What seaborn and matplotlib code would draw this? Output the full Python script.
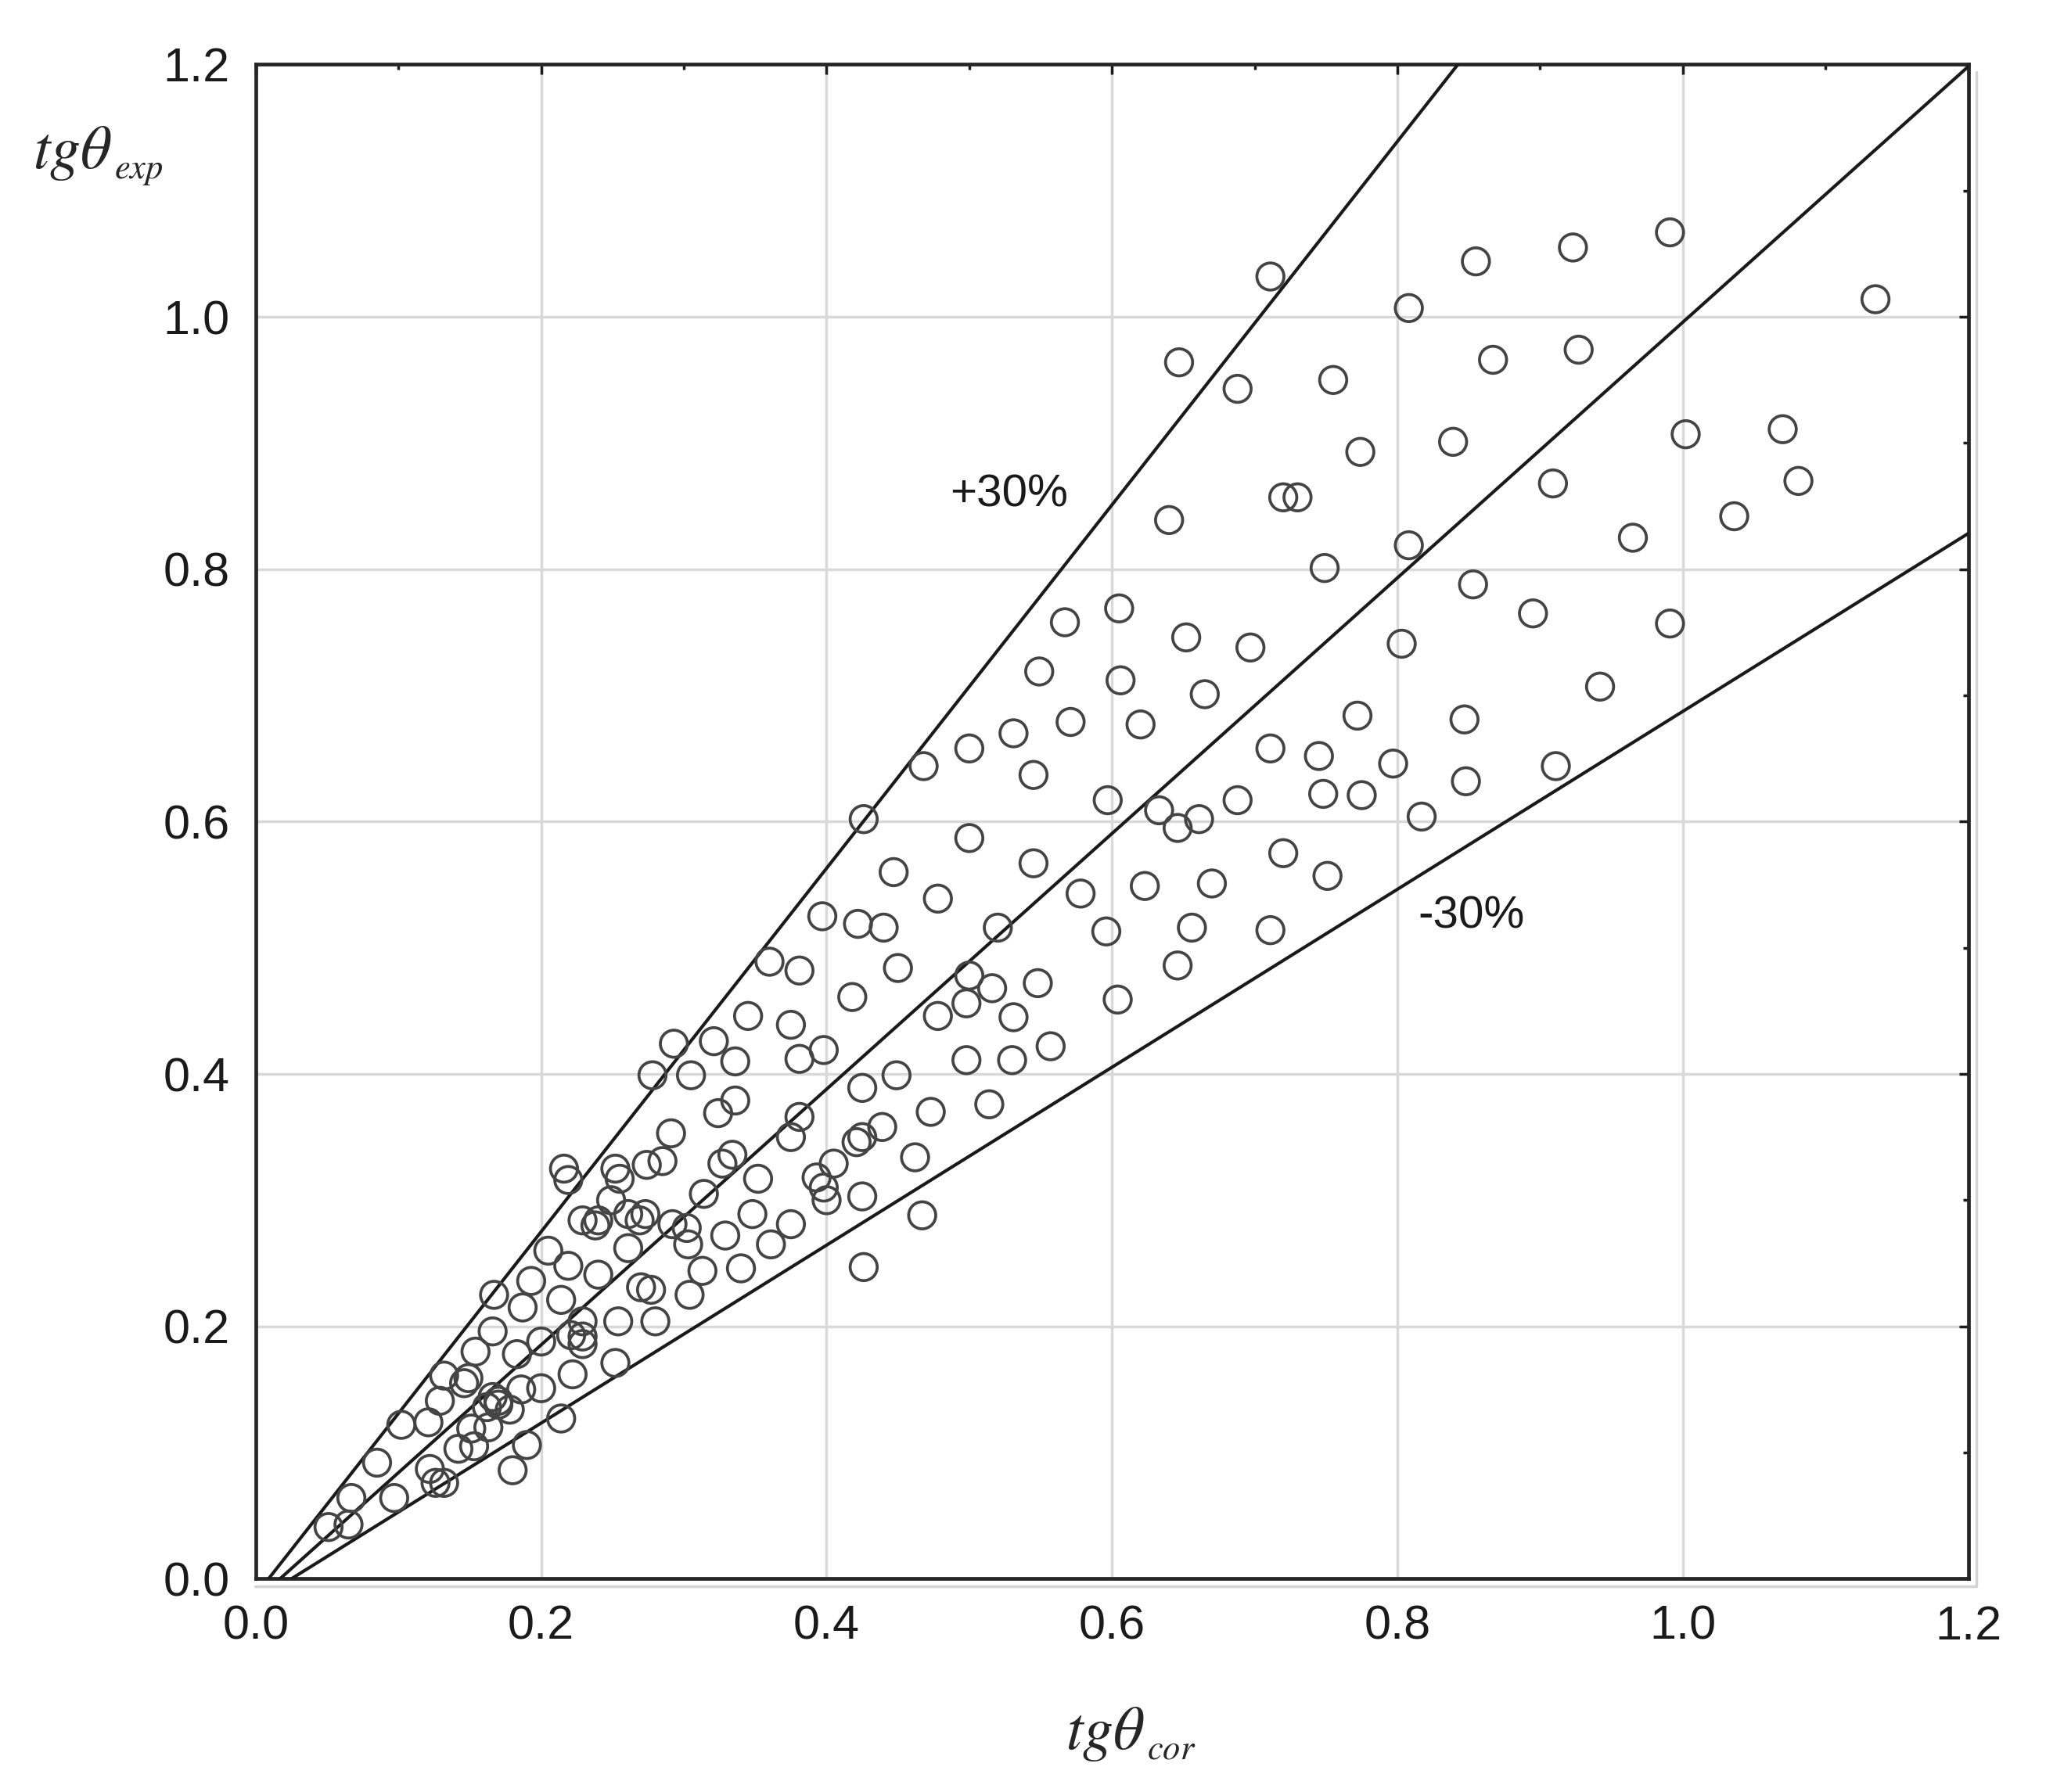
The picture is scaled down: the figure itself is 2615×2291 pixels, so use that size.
import numpy as np
import pandas as pd
import seaborn as sns
import matplotlib.pyplot as plt
from matplotlib.transforms import offset_copy

sns.set_style('white')
plt.rcParams['font.family'] = ['Liberation Sans', 'DejaVu Sans']
plt.rcParams['mathtext.fontset'] = 'stix'

# measured points (tg theta correlated vs experimental)
tg_cor = [0.991, 0.923, 0.855, 0.711, 1.135, 0.808, 0.927, 0.867, 0.647, 0.755,
          0.688, 1.002, 1.070, 0.839, 0.774, 0.909, 1.081, 0.720, 0.730, 0.640,
          1.036, 0.965, 0.808, 0.749, 0.853, 0.605, 0.895, 0.991, 0.567, 0.652,
          0.803, 0.697, 0.549, 0.606, 0.942, 0.665, 0.772, 0.847, 0.571, 0.620,
          0.531, 0.500, 0.711, 0.745, 0.468, 0.797, 0.911, 0.545, 0.848, 0.426,
          0.597, 0.688, 0.748, 0.775, 0.633, 0.661, 0.646, 0.817, 0.500, 0.545,
          0.720, 0.751, 0.447, 0.578, 0.478, 0.623, 0.670, 0.397, 0.422, 0.440,
          0.520, 0.596, 0.656, 0.711, 0.360, 0.381, 0.646, 0.450, 0.500, 0.516,
          0.548, 0.418, 0.604, 0.498, 0.345, 0.478, 0.531, 0.375, 0.557, 0.293,
          0.321, 0.398, 0.381, 0.498, 0.530, 0.336, 0.278, 0.305, 0.449, 0.425,
          0.336, 0.514, 0.324, 0.473, 0.381, 0.439, 0.291, 0.425, 0.375, 0.421,
          0.216, 0.252, 0.274, 0.285, 0.334, 0.327, 0.405, 0.462, 0.352, 0.393,
          0.219, 0.255, 0.314, 0.398, 0.400, 0.425, 0.249, 0.229, 0.240, 0.261,
          0.273, 0.269, 0.292, 0.467, 0.348, 0.375, 0.302, 0.238, 0.303, 0.329,
          0.361, 0.261, 0.240, 0.313, 0.340, 0.205, 0.219, 0.426, 0.270, 0.277,
          0.304, 0.193, 0.167, 0.214, 0.187, 0.254, 0.280, 0.229, 0.166, 0.229,
          0.221, 0.200, 0.229, 0.154, 0.183, 0.252, 0.132, 0.222, 0.149, 0.146,
          0.186, 0.200, 0.166, 0.170, 0.129, 0.162, 0.170, 0.178, 0.102, 0.121,
          0.214, 0.151, 0.163, 0.085, 0.142, 0.153, 0.190, 0.122, 0.126, 0.132,
          0.180, 0.097, 0.067, 0.051, 0.065]
tg_exp = [1.067, 1.055, 1.044, 1.032, 1.014, 1.007, 0.974, 0.966, 0.964, 0.950,
          0.943, 0.907, 0.911, 0.901, 0.893, 0.868, 0.870, 0.857, 0.857, 0.839,
          0.842, 0.825, 0.819, 0.801, 0.788, 0.769, 0.765, 0.757, 0.758, 0.746,
          0.741, 0.738, 0.719, 0.712, 0.707, 0.701, 0.684, 0.681, 0.679, 0.677,
          0.670, 0.658, 0.658, 0.652, 0.644, 0.646, 0.644, 0.637, 0.632, 0.602,
          0.617, 0.617, 0.622, 0.621, 0.609, 0.602, 0.595, 0.604, 0.587, 0.567,
          0.575, 0.557, 0.560, 0.543, 0.539, 0.549, 0.551, 0.525, 0.519, 0.516,
          0.516, 0.513, 0.516, 0.514, 0.489, 0.482, 0.486, 0.484, 0.478, 0.468,
          0.472, 0.461, 0.459, 0.456, 0.446, 0.446, 0.445, 0.439, 0.422, 0.424,
          0.426, 0.419, 0.412, 0.411, 0.411, 0.410, 0.399, 0.399, 0.399, 0.389,
          0.379, 0.376, 0.369, 0.370, 0.366, 0.358, 0.353, 0.350, 0.350, 0.346,
          0.325, 0.325, 0.328, 0.331, 0.336, 0.329, 0.329, 0.334, 0.317, 0.318,
          0.316, 0.317, 0.305, 0.310, 0.300, 0.303, 0.300, 0.284, 0.284, 0.289,
          0.289, 0.284, 0.281, 0.288, 0.289, 0.281, 0.278, 0.280, 0.265, 0.272,
          0.265, 0.262, 0.241, 0.244, 0.246, 0.260, 0.248, 0.247, 0.231, 0.229,
          0.225, 0.236, 0.225, 0.221, 0.215, 0.204, 0.204, 0.204, 0.196, 0.192,
          0.193, 0.188, 0.186, 0.180, 0.178, 0.171, 0.161, 0.162, 0.159, 0.155,
          0.150, 0.151, 0.144, 0.141, 0.141, 0.136, 0.138, 0.134, 0.122, 0.124,
          0.127, 0.119, 0.120, 0.092, 0.103, 0.105, 0.106, 0.087, 0.076, 0.076,
          0.086, 0.064, 0.064, 0.041, 0.043]

# deviation lines: slope and x where they cross zero
band_names = ['+30%', '0%', '-30%']
band_slopes = [1.44, 1.013, 0.705]
band_x0 = [0.009, 0.017, 0.025]

ticks = [0.0, 0.2, 0.4, 0.6, 0.8, 1.0, 1.2]
minor_ticks = [0.1, 0.3, 0.5, 0.7, 0.9, 1.1]

df = pd.DataFrame({'cor': tg_cor, 'exp': tg_exp})

fig = plt.figure(figsize=(26.15, 22.91), dpi=100)
ax = fig.add_axes([0.125, 0.119, 0.837, 0.845])

for name, k, x0 in zip(band_names, band_slopes, band_x0):
    xx = np.linspace(x0, 1.2, 200)
    line = pd.DataFrame({'x': xx, 'y': k * (xx - x0)})
    sns.lineplot(data=line, x='x', y='y', ax=ax, color='#1a1a1a', lw=3.0, zorder=3)

sns.scatterplot(data=df, x='cor', y='exp', ax=ax, s=620, marker='o',
                facecolor='none', edgecolor='#444444', linewidth=2.7, zorder=4)

ax.set_xlim(0, 1.2)
ax.set_ylim(0, 1.2)
ax.set_xticks(ticks)
ax.set_yticks(ticks)
ax.set_xticks(minor_ticks, minor=True)
ax.set_yticks(minor_ticks, minor=True)
ax.set_xticklabels(['%.1f' % v for v in ticks])
ax.set_yticklabels(['%.1f' % v for v in ticks])
ax.grid(True, which='major', color='#d9d9d9', lw=2.5, zorder=0)
ax.tick_params(which='both', direction='in', top=True, right=True,
               labelsize=44, colors='#1a1a1a', pad=24)
ax.tick_params(which='major', length=9, width=2.5)
ax.tick_params(which='minor', length=5, width=2.5)
for sp in ax.spines.values():
    sp.set_linewidth(3.4)
    sp.set_color('#262626')

# faint shadow frame along bottom and right
shadow = offset_copy(ax.transAxes, fig=fig, x=10, y=-10, units='dots')
ax.plot([-0.005, 1, 1], [0, 0, 1], transform=shadow, color='#d4d4d4',
        lw=2.5, clip_on=False, zorder=0)

ax.set_xlabel('')
ax.set_ylabel('')

# axis titles: main symbol plus a small italic subscript
fig.canvas.draw()
rend = fig.canvas.get_renderer()
for xpos, ypos, sub in [(0.521, 0.024, 'cor'), (0.016, 0.906, 'exp')]:
    t = fig.text(xpos, ypos, r'$tg\theta$', fontsize=56, ha='left', va='baseline')
    bb = t.get_window_extent(rend)
    fig.text((bb.x1 + 3) / fig.bbox.width, ypos - 0.0055, '$%s$' % sub,
             fontsize=32, ha='left', va='baseline')

ax.text(0.528, 0.859, '+30%', fontsize=42, ha='center', va='center', color='#1a1a1a')
ax.text(0.852, 0.525, '-30%', fontsize=42, ha='center', va='center', color='#1a1a1a')

fig.savefig('out.png', dpi=100, facecolor='white')
